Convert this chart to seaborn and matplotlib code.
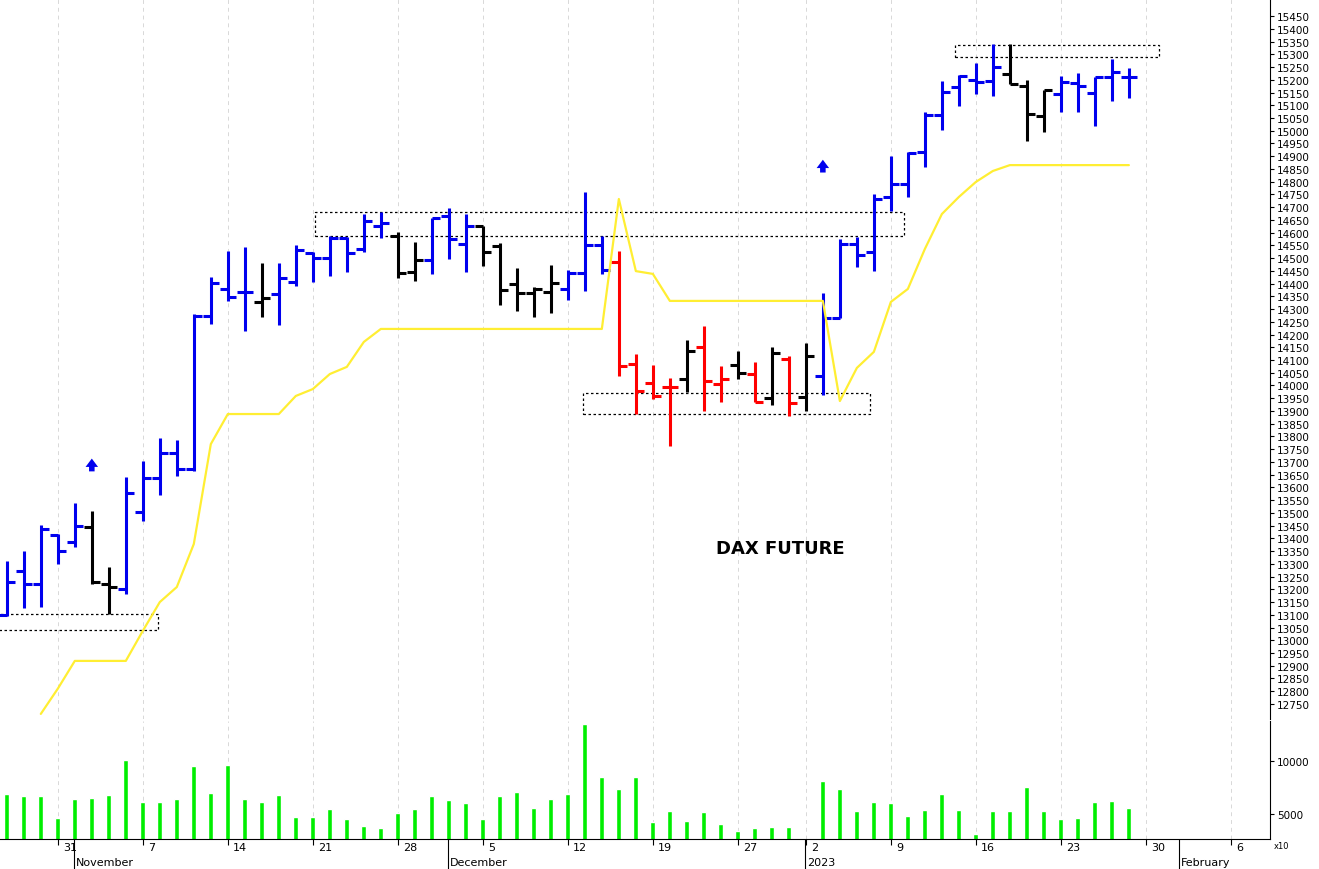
import numpy as np
import pandas as pd
import matplotlib
matplotlib.use('Agg')
import matplotlib.pyplot as plt
import matplotlib.transforms as mtrans
import seaborn as sns

sns.set_style('white')
plt.rcParams['font.family'] = ['DejaVu Sans']
plt.rcParams['text.color'] = 'black'
plt.rcParams['xtick.color'] = 'black'
plt.rcParams['ytick.color'] = 'black'

# trading days (Eurex closed Dec 26)
days = pd.bdate_range('2022-10-26', '2023-02-10')
days = days[days != pd.Timestamp('2022-12-26')]
n_data = 67

opens = [13100, 13272, 13221, 13415,
         13386, 13445, 13221, 13200, 13504, 13637, 13735, 13672, 14273, 14379, 14367, 14328, 14359, 14406, 14520, 14500, 14579, 14536, 14626, 14587, 14446, 14493,
         14665, 14555, 14626, 14547, 14398, 14363, 14367, 14379, 14442, 14551, 14485, 14084, 14010, 13994, 14026, 14151, 14006, 14080, 14045, 13951, 14104,
         13955, 14037, 14265, 14555, 14524, 14740, 14791, 14916, 15061, 15171, 15199, 15195, 15222, 15175, 15058, 15144, 15187, 15148, 15211, 15211]
highs = [13311, 13351, 13453, 13417,
         13539, 13508, 13288, 13641, 13704, 13794, 13786, 14281, 14426, 14528, 14544, 14481, 14481, 14551, 14524, 14587, 14583, 14673, 14681, 14603, 14563, 14657,
         14697, 14673, 14626, 14559, 14461, 14387, 14473, 14453, 14759, 14587, 14528, 14124, 14080, 14030, 14179, 14234, 14077, 14136, 14092, 14151, 14116,
         14167, 14363, 14575, 14583, 14752, 14901, 14916, 15073, 15195, 15218, 15266, 15340, 15340, 15199, 15160, 15215, 15226, 15211, 15281, 15246]
lows = [13096, 13127, 13131, 13300,
        13366, 13221, 13103, 13182, 13468, 13570, 13645, 13665, 14241, 14332, 14214, 14269, 14238, 14390, 14406, 14430, 14446, 14524, 14579, 14422, 14410, 14438,
        14497, 14446, 14469, 14316, 14292, 14269, 14284, 14336, 14371, 14438, 14037, 13888, 13947, 13763, 13975, 13900, 13935, 14026, 13935, 13923, 13880,
        13900, 13963, 14265, 14465, 14449, 14685, 14740, 14857, 15003, 15097, 15144, 15136, 15183, 14959, 14995, 15073, 15073, 15018, 15116, 15128]
closes = [13229, 13221, 13437, 13351,
          13449, 13229, 13209, 13578, 13637, 13735, 13672, 14273, 14402, 14347, 14367, 14343, 14422, 14532, 14500, 14579, 14520, 14646, 14638, 14442, 14493, 14657,
          14575, 14626, 14524, 14375, 14363, 14379, 14402, 14442, 14551, 14453, 14077, 13979, 13959, 13994, 14136, 14018, 14026, 14049, 13935, 14128, 13931,
          14116, 14265, 14555, 14512, 14732, 14791, 14912, 15061, 15152, 15215, 15191, 15250, 15183, 15065, 15160, 15191, 15175, 15211, 15230, 15211]
bar_colors = list('bbbb' 'bkkbbbbbbbbkbbbbbbbkkb' 'bbkkkkkbbbrrrrkrrkrkr' 'kbbbbbbbbbbbkkkbbbbb')
stop_line = [np.nan, np.nan, 12711, 12810,
             12919, 12919, 12919, 12919, 13037, 13150, 13209, 13378, 13770, 13888, 13888, 13888, 13888, 13959, 13986, 14045, 14073, 14171, 14222, 14222, 14222, 14222,
             14222, 14222, 14222, 14222, 14222, 14222, 14222, 14222, 14222, 14222, 14732, 14449, 14438, 14332, 14332, 14332, 14332, 14332, 14332, 14332, 14332,
             14332, 14332, 13939, 14069, 14132, 14328, 14379, 14536, 14673, 14740, 14799, 14842, 14865, 14865, 14865, 14865, 14865, 14865, 14865, 14865]
volume = [6887, 6698, 6698, 4623,
          6415, 6509, 6792, 10094, 6132, 6132, 6415, 9528, 6981, 9623, 6415, 6132, 6792, 4717, 4717, 5472, 4528, 3868, 3679, 5094, 5472, 6698,
          6321, 6038, 4528, 6698, 7075, 5566, 6415, 6887, 13491, 8491, 7358, 8491, 4245, 5283, 4340, 5189, 4057, 3396, 3679, 3774, 3774,
          2500, 8113, 7358, 5283, 6132, 6038, 4811, 5377, 6887, 5377, 3113, 5283, 5283, 7547, 5283, 4528, 4623, 6132, 6226, 5566]
# dashed zones: (first index, last index, low, high)
zones = [(-0.5, 8.9, 13041, 13104), (18.1, 52.8, 14587, 14681),
         (33.9, 50.8, 13888, 13971), (55.8, 67.8, 15289, 15336)]
arrows = [(5, 13684), (48, 14857)]

cmap = {'b': '#0000ee', 'k': 'black', 'r': '#ff0000'}
x = np.arange(n_data)

fig = plt.figure(figsize=(13.19, 8.70), dpi=100)
W, H = 1319, 870
ax = fig.add_axes([0, 1 - 720 / H, 1270 / W, 720 / H])
axv = fig.add_axes([0, 1 - 840 / H, 1270 / W, 118 / H], sharex=ax)

xmin, xmax = -0.4, 74.3
w = 0.47
for i in range(n_data):
    c = cmap[bar_colors[i]]
    ax.vlines(i, lows[i], highs[i], color=c, lw=2.2)
    ax.hlines(opens[i], i - w, i, color=c, lw=2.2)
    ax.hlines(closes[i], i, i + w, color=c, lw=2.2)

sns.lineplot(x=x, y=stop_line, ax=ax, color='#ffee33', lw=1.6)

for x0, x1, lo, hi in zones:
    ax.add_patch(plt.Rectangle((x0, lo), x1 - x0, hi - lo, fill=False,
                               ls=(0, (2, 2)), lw=0.9, ec='black'))
for xi, yi in arrows:
    ax.annotate('', xy=(xi, yi + 40), xytext=(xi, yi - 32),
                arrowprops=dict(arrowstyle='simple,head_width=0.9,head_length=0.6,tail_width=0.4',
                                color='#0000ee', lw=0))
ax.text(45.5, 13362, 'DAX FUTURE', fontsize=13, fontweight='bold', ha='center', va='center')

ax.set_xlim(xmin, xmax)
ax.set_ylim(12691, 15517)
ax.set_yticks(np.arange(12750, 15451, 50))
ax.yaxis.tick_right()
ax.tick_params(axis='y', labelsize=7.5, length=3, pad=2, direction='out', right=True)
ax.tick_params(axis='x', bottom=False, labelbottom=False)
for s in ['top', 'left', 'bottom']:
    ax.spines[s].set_visible(False)
ax.spines['right'].set_color('black')

axv.bar(x, volume, width=0.3, color='#00ee00', bottom=0)
axv.set_ylim(2640, 13774)
axv.set_yticks([5000, 10000])
axv.yaxis.tick_right()
axv.tick_params(axis='y', labelsize=7.5, length=3, pad=2, right=True)
for s in ['top', 'left']:
    axv.spines[s].set_visible(False)
axv.spines['right'].set_color('black')
axv.spines['bottom'].set_color('black')
axv.text(1.003, -0.02, 'x10', transform=axv.transAxes, fontsize=6, va='top')

# weekly grid and labels
mondays = [i for i, d in enumerate(days) if i == 0 or days[i - 1].week != d.week]
mondays = [i for i in mondays if i > 0 and i < 75]
for a in (ax, axv):
    for m in mondays:
        a.axvline(m, color='#d8d8d8', lw=0.7, ls=(0, (4, 4)), zorder=0)
axv.set_xticks(mondays)
axv.set_xticklabels([])
axv.tick_params(axis='x', bottom=True, length=4, color='black')
tr = mtrans.blended_transform_factory(axv.transData, fig.transFigure)
for m in mondays:
    axv.text(m + 0.3, 1 - 848 / H, str(days[m].day), transform=tr, fontsize=8, va='center', ha='left')
months = [(pd.Timestamp('2022-11-01'), 'November'), (pd.Timestamp('2022-12-01'), 'December'),
          (pd.Timestamp('2023-01-02'), '2023'), (pd.Timestamp('2023-02-01'), 'February')]
for d, lab in months:
    i = int(np.searchsorted(days, d))
    xi = i - 0.05
    axv.plot([xi, xi], [1 - 840 / H, 0], transform=tr, color='black', lw=0.8, clip_on=False)
    axv.text(xi + 0.1, 1 - 863 / H, lab, transform=tr, fontsize=8, va='center', ha='left')

fig.savefig('out.png', dpi=100)
